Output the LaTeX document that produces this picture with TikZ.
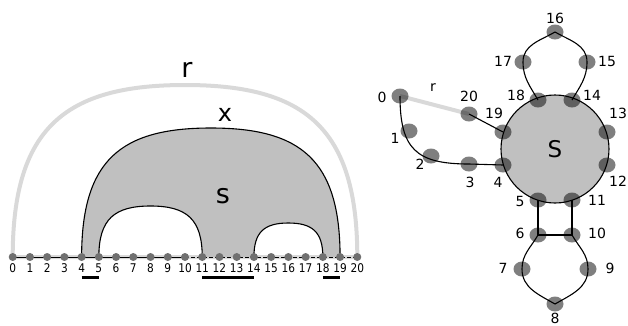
\documentclass[tikz,border=0pt]{standalone}
\usepackage{fontspec}
\setmainfont{DejaVu Sans}
\newfontfamily\condfont[FakeStretch=0.88]{DejaVu Sans}
\usepackage{tikz}
\usetikzlibrary{shapes.geometric}
\usepackage{xcolor}
\definecolor{ringgray}{HTML}{D9D9D9}
\definecolor{fillgray}{HTML}{C0C0C0}
\definecolor{dotgray}{HTML}{707070}

\begin{document}
\begin{tikzpicture}[x=1pt,y=-1pt,
    dot/.style={circle,fill=dotgray,inner sep=0pt,minimum size=8pt},
    bdot/.style={ellipse,fill=black,fill opacity=0.5,inner sep=0pt,minimum width=17pt,minimum height=15pt},
    nlbl/.style={inner sep=0pt,font=\condfont\fontsize{12}{14}\selectfont},
    rlbl/.style={inner sep=0pt,font=\fontsize{14}{16}\selectfont},
    bar/.style={line width=3pt},
    edge/.style={line width=1.1pt}]
        \def\xo{12.7}
        \def\dx{17.23}
        \def\yb{257}
        \useasboundingbox (0,0) rectangle (628,325);

        %------------------
        % 左：弧図
        %------------------

        % 点の位置
        \foreach \i in {0,...,20}
          \coordinate (a\i) at ({\xo+\dx*\i},\yb);
        \coordinate (rtop) at (185,85);
        \coordinate (stop) at (210.85,128);
        \coordinate (h1top) at (150.5,206);
        \coordinate (h2top) at (288.35,223);

        % r（灰色の弧）
        \draw[ringgray,line width=4pt] (a0) .. controls +(0,-129) and +(-120,0) .. (rtop)
          .. controls +(120,0) and +(0,-129) .. (a20) -- cycle;

        % s（塗り）
        \fill[fillgray] (a4) .. controls +(0,-97) and +(-90,0) .. (stop)
          .. controls +(90,0) and +(0,-97) .. (a19)
          -- (a18) .. controls +(0,-25) and +(24,0) .. (h2top)
          .. controls +(-24,0) and +(0,-25) .. (a14)
          -- (a11) .. controls +(0,-38) and +(36,0) .. (h1top)
          .. controls +(-36,0) and +(0,-38) .. (a5) -- cycle;
        \draw[edge] (a4) .. controls +(0,-97) and +(-90,0) .. (stop)
          .. controls +(90,0) and +(0,-97) .. (a19);
        \draw[edge] (a5) .. controls +(0,-38) and +(-36,0) .. (h1top)
          .. controls +(36,0) and +(0,-38) .. (a11);
        \draw[edge] (a14) .. controls +(0,-25) and +(-24,0) .. (h2top)
          .. controls +(24,0) and +(0,-25) .. (a18);

        % 軸
        \draw[line width=0.8pt] (a0) -- (a10);
        \draw[line width=0.8pt,dash pattern=on 4pt off 2pt] (a10) -- (a20);

        \foreach \i in {0,...,20} {
          \node[dot] (d\i) at (a\i) {};
          \node[nlbl] (n\i) at ({\xo+\dx*\i},268) {\i};
        }

        % 区間
        \draw[bar] ([yshift=-20pt]a4) -- ([yshift=-20pt]a5);
        \draw[bar] ([yshift=-20pt]a11) -- ([yshift=-20pt]a14);
        \draw[bar] ([yshift=-20pt]a18) -- ([yshift=-20pt]a19);

        % ラベル
        \node[font=\fontsize{27}{30}\selectfont] (lr) at (187,70) {r};
        \node[font=\fontsize{24}{28}\selectfont] (lx) at (225,115) {x};
        \node[font=\fontsize{27}{30}\selectfont] (ls) at (223,196) {s};

        %------------------
        % 右：グラフ
        %------------------

        \node[circle,draw,fill=fillgray,edge,minimum size=108pt,inner sep=0pt,
          font=\fontsize{23}{26}\selectfont] (S) at (555,149) {S};

        \foreach \n/\x/\y in {0/400/96,1/409/131,2/431/156,3/469/164,4/503/165,
            5/538/200,6/538/235,7/522/269,8/555/304,9/588/269,10/572/235,
            11/572/200,12/607/165,13/607/132,14/572/100,15/587/62,16/555/32,
            17/523/62,18/538/100,19/503/132,20/469/114}
          \coordinate (c\n) at (\x,\y);

        % r（灰色の線）
        \draw[ringgray,line width=4pt] (c0) -- (c20);

        \foreach \n/\lx/\ly in {0/382/97,1/395/138,2/420/164,3/470/182,4/498/182,
            5/520/201,6/520/233,7/503/268,8/555/318,9/610/268,10/597/233,
            11/597/200,12/618/181,13/618/113,14/592/95,15/607/61,16/555/18,
            17/503/61,18/516/95,19/494/113,20/469/96} {
          \node[bdot] (b\n) at (c\n) {};
          \node[rlbl] (m\n) at (\lx,\ly) {\n};
        }

        % 辺
        \draw[edge] (b0.center) to[out=-90,in=180,looseness=1.4] (b3.center) -- (b4.center);
        \draw[edge] (b20.center) -- (b19.center);
        \draw[edge] (b18.center) to[out=120,in=-90] (b17.center) to[out=90,in=210] (b16.center)
          to[out=-30,in=90] (b15.center) to[out=-90,in=60] (b14.center);
        \draw[edge] (b5.center) -- (b6.center) -- (b10.center) -- (b11.center);
        \draw[edge] (b6.center) to[out=-120,in=90] (b7.center) to[out=-90,in=150] (b8.center)
          to[out=30,in=-90] (b9.center) to[out=90,in=-60] (b10.center);

        \node[font=\fontsize{14}{16}\selectfont] (rr) at (433,88) {r};
      \end{tikzpicture}
\end{document}
